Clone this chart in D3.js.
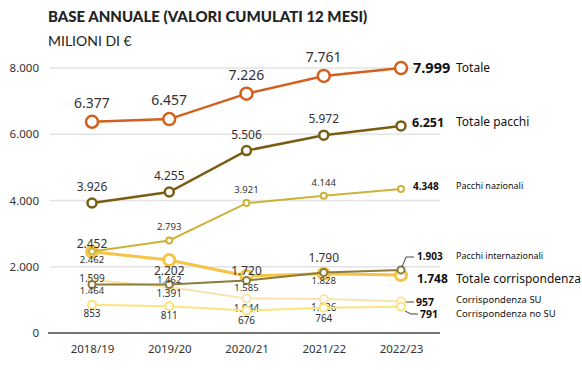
<!DOCTYPE html>
<html>
<head>
<meta charset="utf-8">
<script src="https://cdn.jsdelivr.net/npm/d3@7"></script>
<style>
  body { margin: 0; background: #fff; }
  text { font-family: "Noto Sans", "Open Sans", sans-serif; fill: #333; }
  .title { font-family: Lato, "Noto Sans", sans-serif; }
</style>
</head>
<body>
<svg id="chart" width="582" height="370"></svg>
<script>
let years = ['2018/19', '2019/20', '2020/21', '2021/22', '2022/23']
let y_ticks = [0, 2000, 4000, 6000, 8000]

let totale = [6377, 6457, 7226, 7761, 7999]
let totale_pacchi = [3926, 4255, 5506, 5972, 6251]
let pacchi_nazionali = [2462, 2793, 3921, 4144, 4348]
let pacchi_internazionali = [1464, 1462, 1585, 1828, 1903]
let totale_corrispondenza = [2452, 2202, 1720, 1790, 1748]
let corrispondenza_su = [1599, 1391, 1044, 1026, 957]
let corrispondenza_no_su = [853, 811, 676, 764, 791]

let series_names = ['Totale', 'Totale pacchi', 'Pacchi nazionali', 'Pacchi internazionali',
    'Totale corrispondenza', 'Corrispondenza SU', 'Corrispondenza no SU']

let fmt = d3.formatLocale({decimal: ',', thousands: '.', grouping: [3], currency: ['', '€']}).format(',d')

let y0 = 333

let x = d3.scalePoint().domain(years).range([92, 401])
let y = d3.scaleLinear().domain([0, 8000]).range([y0, 68])

// drawing order: back to front
// dy: baseline offset of each point label from its marker (null = last point, has an end label)
let series = [
    {name: series_names[5], values: corrispondenza_su, color: '#fbe3b0', width: 2, r: 4, font: 10,
        dy: [1.5, 10, 14, 12, null],
        end: {vy: 306, vx: 416, vsize: 10.5, ny: 303, nsize: 9.5, leader: [[406, 302], [414, 302]]}},
    {name: series_names[6], values: corrispondenza_no_su, color: '#fde37c', width: 2, r: 4, font: 10,
        dy: [12.5, 12.5, 13.5, 14.5, null],
        end: {vy: 318, vx: 420, vsize: 10.5, ny: 317, nsize: 9.5, leader: [[405, 311], [411, 314], [418, 314]]}},
    {name: series_names[4], values: totale_corrispondenza, color: '#f7c342', width: 3, r: 5.5, font: 12,
        dy: [-3.5, 14.5, -1.5, -12, null],
        end: {vy: 283, vx: 417, vsize: 12, ny: 283, nsize: 12}},
    {name: series_names[3], values: pacchi_internazionali, color: '#8c7b3b', width: 2, r: 3.5, font: 9.5,
        dy: [9.5, -2, 11, 11.5, null],
        end: {vy: 260, vx: 417, vsize: 10, ny: 259, nsize: 9, leader: [[402, 267], [406, 257], [414, 257]]}},
    {name: series_names[2], values: pacchi_nazionali, color: '#cdb238', width: 2, r: 3, font: 9.5,
        dy: [12, -10, -10, -10, null],
        end: {vy: 190, vx: 413, vsize: 10, ny: 189, nsize: 9}},
    {name: series_names[1], values: totale_pacchi, color: '#7a5d12', width: 2.5, r: 4.5, font: 12,
        dy: [-12, -12, -12, -12, null],
        end: {vy: 127, vx: 412, vsize: 12.5, ny: 126, nsize: 12}},
    {name: series_names[0], values: totale, color: '#d2611f', width: 2.5, r: 6, font: 14,
        dy: [-14, -14, -14, -14, null],
        end: {vy: 73, vx: 413, vsize: 14.5, ny: 72, nsize: 12}}
]

let svg = d3.select('#chart')

svg.append('text')
    .attr('class', 'title')
    .attr('x', 48).attr('y', 22)
    .style('font-size', '15px').style('font-weight', 900)
    .style('fill', '#222')
    .text('BASE ANNUALE (VALORI CUMULATI 12 MESI)')

svg.append('text')
    .attr('class', 'title')
    .attr('x', 48).attr('y', 46)
    .style('font-size', '14px')
    .style('fill', '#222')
    .text('MILIONI DI €')

// gridlines
svg.append('g')
    .selectAll('line')
    .data(y_ticks.filter(d => d > 0))
    .join('line')
    .attr('x1', 50).attr('x2', 440)
    .attr('y1', d => y(d)).attr('y2', d => y(d))
    .attr('stroke', '#e3e3e3')
    .attr('stroke-width', 1.5)

// y axis labels
let yAxis = d3.axisLeft(y).tickValues(y_ticks).tickFormat(fmt).tickSize(0).tickPadding(0)
let gy = svg.append('g').attr('transform', 'translate(39,0)').call(yAxis)
gy.select('.domain').remove()
gy.selectAll('text').style('font-size', '11.5px').style('font-family', '"Noto Sans", sans-serif').attr('fill', '#333')

// baseline
svg.append('line')
    .attr('x1', 48).attr('x2', 440)
    .attr('y1', y0).attr('y2', y0)
    .attr('stroke', '#444')
    .attr('stroke-width', 1.5)

// x axis labels
let xAxis = d3.axisBottom(x).tickSize(0).tickPadding(0)
let gx = svg.append('g').attr('transform', `translate(0,${y0 + 12})`).call(xAxis)
gx.select('.domain').remove()
gx.selectAll('text').style('font-size', '11.5px').style('font-family', '"Noto Sans", sans-serif').attr('fill', '#333')

let line = d3.line()
    .x((d, i) => x(years[i]))
    .y(d => y(d))

series.forEach(s => {
    let g = svg.append('g')

    g.append('path')
        .datum(s.values)
        .attr('d', line)
        .attr('fill', 'none')
        .attr('stroke', s.color)
        .attr('stroke-width', s.width)

    g.selectAll('circle')
        .data(s.values)
        .join('circle')
        .attr('cx', (d, i) => x(years[i]))
        .attr('cy', d => y(d))
        .attr('r', s.r)
        .attr('fill', '#fff')
        .attr('stroke', s.color)
        .attr('stroke-width', s.width)

    g.selectAll('text.val')
        .data(s.values.map((v, i) => ({v: v, i: i})).filter(d => s.dy[d.i] !== null))
        .join('text')
        .attr('class', 'val')
        .attr('x', d => x(years[d.i]))
        .attr('y', d => y(d.v) + s.dy[d.i])
        .attr('text-anchor', 'middle')
        .style('font-size', s.font + 'px')
        .text(d => fmt(d.v))

    let e = s.end
    if (e.leader) {
        g.append('path')
            .attr('d', d3.line()(e.leader))
            .attr('fill', 'none')
            .attr('stroke', '#444')
            .attr('stroke-width', 1)
    }
    g.append('text')
        .attr('x', e.vx).attr('y', e.vy)
        .style('font-size', e.vsize + 'px')
        .style('font-weight', 'bold')
        .style('fill', '#111')
        .text(fmt(s.values[s.values.length - 1]))
    g.append('text')
        .attr('x', 456).attr('y', e.ny)
        .style('font-size', e.nsize + 'px')
        .style('fill', '#111')
        .text(s.name)
})
</script>
</body>
</html>
